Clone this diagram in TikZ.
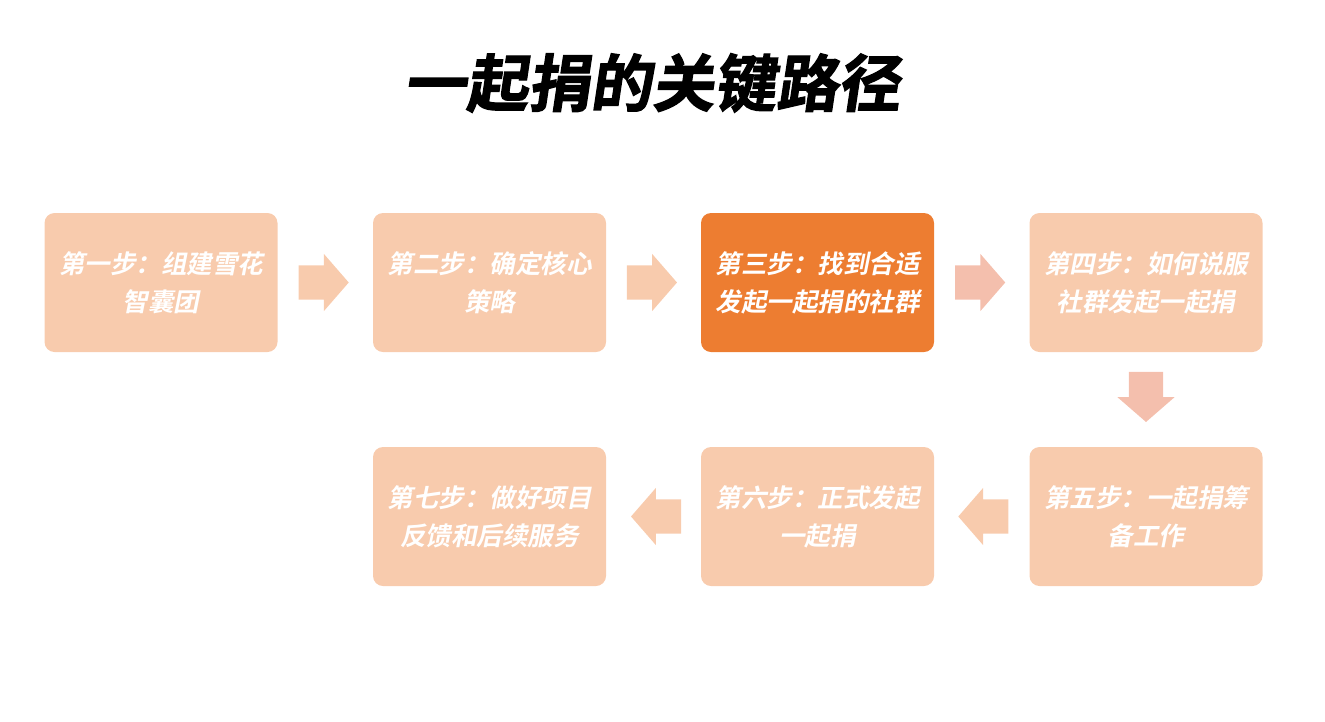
\documentclass[tikz,border=0pt]{standalone}
\usepackage{fontspec}
\newfontfamily\cjk[FakeSlant=0.2]{Noto Sans CJK SC Bold}
\newfontfamily\cjktitle[FakeSlant=0.15,FakeBold=2]{Noto Sans CJK SC Bold}
\definecolor{peach}{HTML}{F8CBAD}
\definecolor{blush}{HTML}{F4BFAD}
\definecolor{accent}{HTML}{ED7D31}
\usetikzlibrary{shapes.arrows, positioning, calc}
\tikzset{
  stepbox/.style={fill=peach, rounded corners=10pt, minimum width=233pt, minimum height=139pt,
                  align=center, text=white, inner sep=0pt, font=\cjk\fontsize{25.5}{38}\selectfont},
  blockarrow/.style={single arrow, fill=peach, inner sep=17pt, minimum height=50pt,
                     single arrow head extend=11.5pt, single arrow tip angle=98},
}
\begin{document}
\begin{tikzpicture}[x=1pt,y=-1pt]
\useasboundingbox (0,0) rectangle (1325,721);
\node[font=\cjktitle\fontsize{62}{62}\selectfont] (title) at (652,83) {一起捐的关键路径};
% first row
\node[stepbox] (s1) at (161,282.5) {第一步：组建雪花\\智囊团};
\node[stepbox] (s2) at (489.5,282.5) {第二步：确定核心\\策略};
\node[stepbox,fill=accent] (s3) at (817.5,282.5) {第三步：找到合适\\发起一起捐的社群};
\node[stepbox] (s4) at (1146,282.5) {第四步：如何说服\\社群发起一起捐};
% second row
\node[stepbox] (s5) at (1146,516.5) {第五步：一起捐筹\\备工作};
\node[stepbox] (s6) at (817.5,516.5) {第六步：正式发起\\一起捐};
\node[stepbox] (s7) at (489.5,516.5) {第七步：做好项目\\反馈和后续服务};
% arrows
\node[blockarrow] (a12) at ($(s1.east)!.5!(s2.west)+(-9,0)$) {};
\node[blockarrow] (a23) at ($(s2.east)!.5!(s3.west)+(-9,0)$) {};
\node[blockarrow,fill=blush] (a34) at ($(s3.east)!.5!(s4.west)+(-9,0)$) {};
\node[blockarrow,fill=blush,rotate=-90] (a45) at ($(s4.south)!.5!(s5.north)+(0,-10)$) {};
\node[blockarrow,rotate=180] (a56) at ($(s5.west)!.5!(s6.east)+(9,0)$) {};
\node[blockarrow,rotate=180] (a67) at ($(s6.west)!.5!(s7.east)+(10,0)$) {};
\end{tikzpicture}
\end{document}
